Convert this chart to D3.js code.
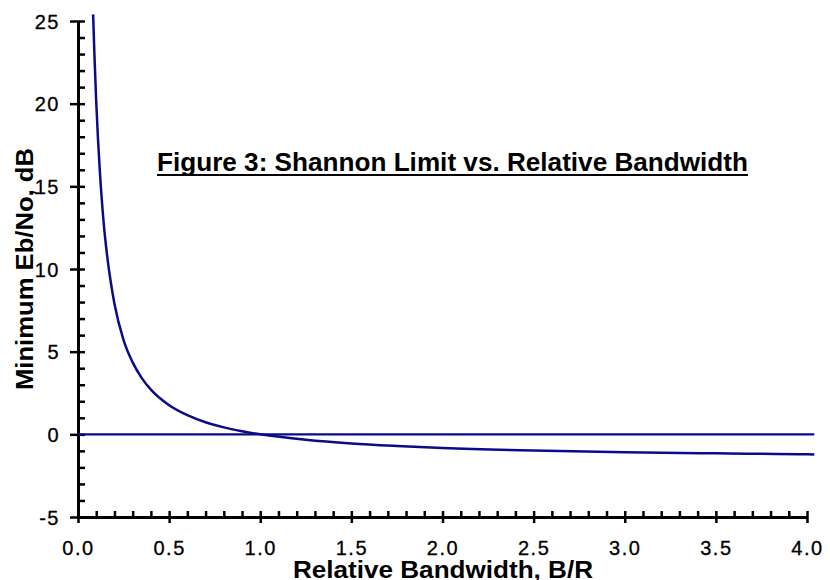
<!DOCTYPE html>
<html>
<head>
<meta charset="utf-8">
<script src="https://cdn.jsdelivr.net/npm/d3@7"></script>
<style>
  body { margin: 0; background: #fff; }
  svg { display: block; font-family: "Liberation Sans", Arial, sans-serif; }
</style>
</head>
<body>
<div id="chart"></div>
<script>
// values (relative bandwidth B/R, minimum Eb/No in dB)
var bwRatio = [0.083, 0.09, 0.10, 0.11, 0.12, 0.14, 0.16, 0.18, 0.20, 0.25, 0.30, 0.35, 0.40, 0.50,
               0.60, 0.70, 0.80, 0.90, 1.00, 1.25, 1.50, 1.75, 2.00, 2.50, 3.00, 3.50, 4.00, 4.04];
var ebnoMin = [25.4, 23.0, 20.1, 17.8, 15.9, 12.9, 10.8, 9.2, 7.9, 5.7, 4.35, 3.4, 2.7, 1.76,
               1.16, 0.73, 0.42, 0.19, 0.0, -0.33, -0.55, -0.70, -0.82, -0.98, -1.08, -1.15, -1.21, -1.22];
// reference line at 0 dB
var refX = [0, 4.04];
var refY = [0, 0];

var xMajor = [0, 0.5, 1, 1.5, 2, 2.5, 3, 3.5, 4];
var xMinor = d3.range(0, 41).map(function (i) { return i / 10; });
var yMajor = [-5, 0, 5, 10, 15, 20, 25];
var yMinor = d3.range(-5, 26);

var title = "Figure 3: Shannon Limit vs. Relative Bandwidth";
var xTitle = "Relative Bandwidth, B/R";
var yTitle = "Minimum Eb/No, dB";

var W = 830, H = 580;
var lineColor = "#0b0b8a";

var svg = d3.select("#chart").append("svg").attr("width", W).attr("height", H);

var x = d3.scaleLinear().domain([0, 4]).range([78, 807]);
var y = d3.scaleLinear().domain([-5, 25]).range([517, 21]);

/** minor ticks (inward) */
var yIn = svg.append("g").attr("transform", "translate(" + x(0) + ",0)")
  .call(d3.axisRight(y).tickValues(yMinor).tickSize(7).tickSizeOuter(0).tickFormat(""));
var xIn = svg.append("g").attr("transform", "translate(0," + y(-5) + ")")
  .call(d3.axisTop(x).tickValues(xMinor).tickSize(6).tickSizeOuter(0).tickFormat(""));

/** major ticks with labels (outward) */
var yAx = svg.append("g").attr("transform", "translate(" + x(0) + ",0)")
  .call(d3.axisLeft(y).tickValues(yMajor).tickSize(8).tickSizeOuter(0).tickPadding(10)
    .tickFormat(function (d) { return String(d); }));
var xAx = svg.append("g").attr("transform", "translate(0," + y(-5) + ")")
  .call(d3.axisBottom(x).tickValues(xMajor).tickSize(6).tickSizeOuter(0).tickFormat(d3.format(".1f")));

[yIn, xIn, yAx, xAx].forEach(function (g) {
  g.select(".domain").attr("stroke", "#000").attr("stroke-width", 3);
  g.selectAll(".tick line").attr("stroke", "#000").attr("stroke-width", 2.5);
});

yAx.selectAll("text")
  .attr("font-size", 20).attr("fill", "#000").attr("letter-spacing", 1.5)
  .attr("stroke", "#000").attr("stroke-width", 0.3)
  .attr("dy", "0.36em");
xAx.selectAll("text")
  .attr("font-size", 20).attr("fill", "#000").attr("letter-spacing", 1.5)
  .attr("stroke", "#000").attr("stroke-width", 0.3)
  .attr("y", 38).attr("dy", 0);

/** the curves */
var line = d3.line().x(function (d) { return x(d[0]); }).y(function (d) { return y(d[1]); });

svg.append("path")
  .datum(d3.zip(refX, refY))
  .attr("fill", "none").attr("stroke", lineColor).attr("stroke-width", 2.2)
  .attr("d", line);

svg.append("path")
  .datum(d3.zip(bwRatio, ebnoMin))
  .attr("fill", "none").attr("stroke", lineColor).attr("stroke-width", 2.5)
  .attr("d", line.curve(d3.curveMonotoneX));

/** titles */
svg.append("text")
  .attr("x", 157).attr("y", 171)
  .attr("font-size", 25).attr("font-weight", "bold")
  .attr("textLength", 591).attr("lengthAdjust", "spacingAndGlyphs")
  .text(title);
svg.append("rect").attr("x", 157).attr("y", 174).attr("width", 591).attr("height", 2).attr("fill", "#000");

svg.append("text")
  .attr("x", 293).attr("y", 578)
  .attr("font-size", 24).attr("font-weight", "bold")
  .attr("textLength", 300).attr("lengthAdjust", "spacingAndGlyphs")
  .text(xTitle);

svg.append("text")
  .attr("transform", "translate(33,390) rotate(-90)")
  .attr("font-size", 24).attr("font-weight", "bold")
  .attr("textLength", 242).attr("lengthAdjust", "spacingAndGlyphs")
  .text(yTitle);
</script>
</body>
</html>
